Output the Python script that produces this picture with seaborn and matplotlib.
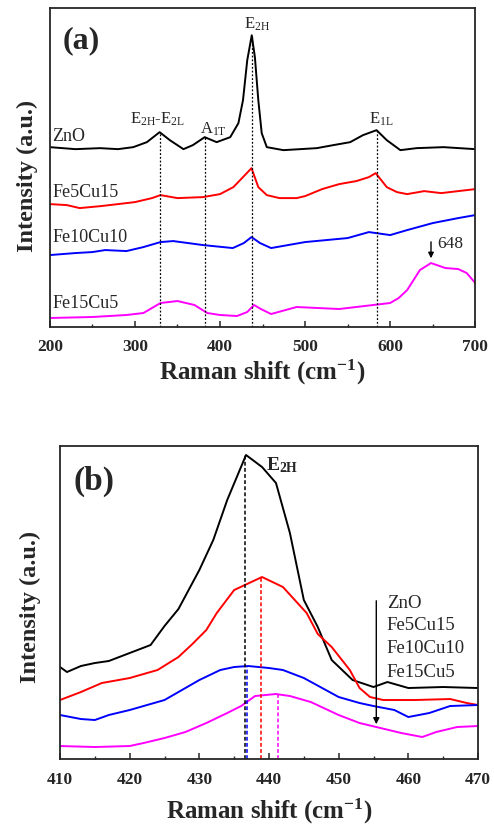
import matplotlib
matplotlib.use("Agg")
import matplotlib.pyplot as plt
import seaborn as sns
from matplotlib.ticker import MultipleLocator

# --- Data: panel (a), full Raman spectra (offset intensities, a.u.) ---
samples = ["ZnO", "Fe5Cu15", "Fe10Cu10", "Fe15Cu5"]
colors = ["black", "red", "blue", "magenta"]

zno_x = [200, 230, 259, 280, 298, 314, 329, 341, 357, 368, 382, 396, 412, 421.6, 427, 432,
         437.3, 441, 445, 449, 455, 474.5, 513.7, 533, 553, 568, 584, 596, 612, 631,
         662.7, 700]
zno_y = [180, 178, 179, 178, 180, 185, 195, 187, 178, 182, 190, 185, 190, 204, 227, 267,
         292, 270, 227, 194, 180, 177, 179, 182, 185, 192, 197, 187, 177, 179,
         180, 178]

fe5_x = [200, 220, 235, 260, 280, 300, 320, 330, 350, 380, 400, 415.7, 427, 437, 445, 455,
         470, 490, 500, 520, 540, 560, 575, 583, 596, 608, 620, 640, 660, 700]
fe5_y = [123, 122, 119, 121, 123, 125, 129, 132, 129, 130, 133, 140, 150, 159, 140, 132,
         129, 129, 131, 138, 143, 146, 150, 154, 140, 135, 133, 136, 134, 138]

fe10_x = [200, 230, 250, 265, 290, 310, 330, 345, 380, 415, 428, 437, 447, 460, 500, 550,
          575, 600, 620, 650, 680, 700]
fe10_y = [72, 74, 75, 77, 76, 80, 85, 86, 82, 79, 84, 90, 84, 79, 85, 89,
          95, 92, 97, 104, 109, 112]

fe15_x = [200, 250, 290, 310, 320, 330, 350, 370, 385, 400, 420, 432, 440, 448, 460, 490,
          540, 580, 600, 610, 620, 635, 648, 665, 680, 690, 700]
fe15_y = [9, 10, 12, 14, 19, 24, 26, 22, 14, 12, 11, 15, 22, 18, 13, 20,
          18, 22, 24, 29, 37, 57, 64, 59, 58, 54, 44]

# mode positions (cm-1) and labels for panel (a)
mode_pos = [330, 382, 437, 584]
mode_top = [195, 190, 292, 197]
mode_labels = ["E$_{2H}$-E$_{2L}$", "A$_{1T}$", "E$_{2H}$", "E$_{1L}$"]
mode_label_x = [327, 392, 443, 589]
mode_label_y = [204, 194, 299, 204]

# --- Data: panel (b), E2H region ---
b_zno_x = [410, 411, 413, 415, 417, 420, 423, 425, 427, 430, 432, 434, 436.7, 439,
           441, 443, 445, 447, 449, 452, 455, 457, 460, 465, 470]
b_zno_y = [92, 87, 93, 96, 98, 106, 114, 133, 150, 189, 219, 259, 304, 292,
           276, 226, 159, 132, 99, 79, 72, 77, 71, 72, 71]

b_fe5_x = [410, 413, 416, 420, 424, 427, 429, 431, 432.5, 435, 439, 442, 445.4, 447,
           449, 451.6, 453, 454.5, 456.4, 461, 466, 468.4, 470]
b_fe5_y = [59, 67, 76, 81, 89, 102, 115, 129, 146, 169, 182, 172, 146, 125,
           112, 89, 71, 62, 59, 59, 60, 56, 54]

b_fe10_x = [410, 413, 415, 417, 420, 425, 430, 433, 435, 437, 440, 442, 445, 450, 453,
            455, 458, 460, 463, 466, 470]
b_fe10_y = [44, 40, 39, 44, 49, 59, 79, 89, 92, 93, 91, 89, 81, 62, 56,
            53, 49, 42, 46, 53, 54]

b_fe15_x = [410, 415, 420, 422, 425, 428, 431, 434, 436, 438, 441, 443, 446, 450, 453,
            456, 459, 462, 464, 467, 470]
b_fe15_y = [13, 12, 13, 16, 21, 27, 36, 46, 53, 63, 65, 63, 57, 44, 36,
            31, 26, 22, 27, 32, 33]

# E2H peak positions per sample (same order as samples)
b_peak_pos = [436.6, 438.9, 436.9, 441.3]
b_peak_top = [304, 182, 93, 65]

# --- Style ---
sns.set_style("ticks")
plt.rcParams["font.family"] = ["Liberation Serif", "DejaVu Serif"]
plt.rcParams["mathtext.default"] = "regular"
plt.rcParams["xtick.direction"] = "in"
plt.rcParams["axes.linewidth"] = 1.3

fig = plt.figure(figsize=(4.94, 8.27), dpi=100)
ax1 = fig.add_axes([0.101, 0.6046, 0.861, 0.3854])
ax2 = fig.add_axes([0.1215, 0.0822, 0.8461, 0.3785])

# --- Panel (a) ---
spectra_a = [(zno_x, zno_y), (fe5_x, fe5_y), (fe10_x, fe10_y), (fe15_x, fe15_y)]
for (xs, ys), c in zip(spectra_a, colors):
    sns.lineplot(x=xs, y=ys, ax=ax1, color=c, lw=1.4, sort=False, estimator=None)

for xp, top in zip(mode_pos, mode_top):
    ax1.vlines(xp, 0, top, colors="black", linestyles=(0, (1.5, 1.5)), lw=0.9)

for lab, lx, ly in zip(mode_labels, mode_label_x, mode_label_y):
    ax1.text(lx, ly, lab, ha="center", va="baseline", fontsize=12)

label_y_a = [191, 135, 90, 24]
for name, ly in zip(samples, label_y_a):
    ax1.text(203, ly, name, ha="left", va="center", fontsize=13)

ax1.annotate("", xy=(648, 66), xytext=(648, 88),
             arrowprops=dict(arrowstyle="-|>", color="black", lw=1, mutation_scale=8))
ax1.text(655, 83, "648", ha="left", va="center", fontsize=12.5)
ax1.text(236.5, 287, "(a)", fontsize=23, fontweight="bold", ha="center", va="center")

ax1.set_xlim(200, 700)
ax1.set_ylim(0, 319)
ax1.xaxis.set_major_locator(MultipleLocator(100))
ax1.xaxis.set_minor_locator(MultipleLocator(50))
ax1.tick_params(axis="x", which="major", length=4, width=1.1, labelsize=12.5, pad=9)
ax1.tick_params(axis="x", which="minor", length=2.5, width=1.0)
ax1.set_yticks([])
for lab in ax1.get_xticklabels():
    lab.set_fontweight("bold")
ax1.set_xlabel("Raman shift (cm$^{-1}$)", fontsize=18, fontweight="bold", labelpad=2)
ax1.set_ylabel("Intensity (a.u.)", fontsize=17.5, fontweight="bold")
ax1.yaxis.set_label_coords(-0.028, 0.473)

# --- Panel (b) ---
spectra_b = [(b_zno_x, b_zno_y), (b_fe5_x, b_fe5_y), (b_fe10_x, b_fe10_y), (b_fe15_x, b_fe15_y)]
for (xs, ys), c in zip(spectra_b, colors):
    sns.lineplot(x=xs, y=ys, ax=ax2, color=c, lw=1.4, sort=False, estimator=None)

for xp, top, c in zip(b_peak_pos, b_peak_top, colors):
    ax2.vlines(xp, 0, top, colors=c, linestyles=(0, (2.5, 1.5)), lw=1.1)

ax2.text(441.9, 294, "E$_{2H}$", fontsize=14, fontweight="bold", ha="center", va="center")
ax2.text(414.9, 278, "(b)", fontsize=24, fontweight="bold", ha="center", va="center")

label_y_b = [156, 134, 111, 87]
for name, ly in zip(samples, label_y_b):
    ax2.text(456.9, ly, name, ha="left", va="center", fontsize=13.5)
ax2.annotate("", xy=(455.4, 32), xytext=(455.4, 161),
             arrowprops=dict(arrowstyle="-|>", color="black", lw=1, mutation_scale=9))

ax2.set_xlim(410, 470)
ax2.set_ylim(0, 313)
ax2.xaxis.set_major_locator(MultipleLocator(10))
ax2.xaxis.set_minor_locator(MultipleLocator(5))
ax2.tick_params(axis="x", which="major", length=4, width=1.1, labelsize=12.5, pad=9)
ax2.tick_params(axis="x", which="minor", length=2.5, width=1.0)
ax2.set_yticks([])
for lab in ax2.get_xticklabels():
    lab.set_fontweight("bold")
ax2.set_xlabel("Raman shift (cm$^{-1}$)", fontsize=18, fontweight="bold", labelpad=7)
ax2.set_ylabel("Intensity (a.u.)", fontsize=17.5, fontweight="bold")
ax2.yaxis.set_label_coords(-0.045, 0.486)

fig.savefig("out.png", dpi=100)
